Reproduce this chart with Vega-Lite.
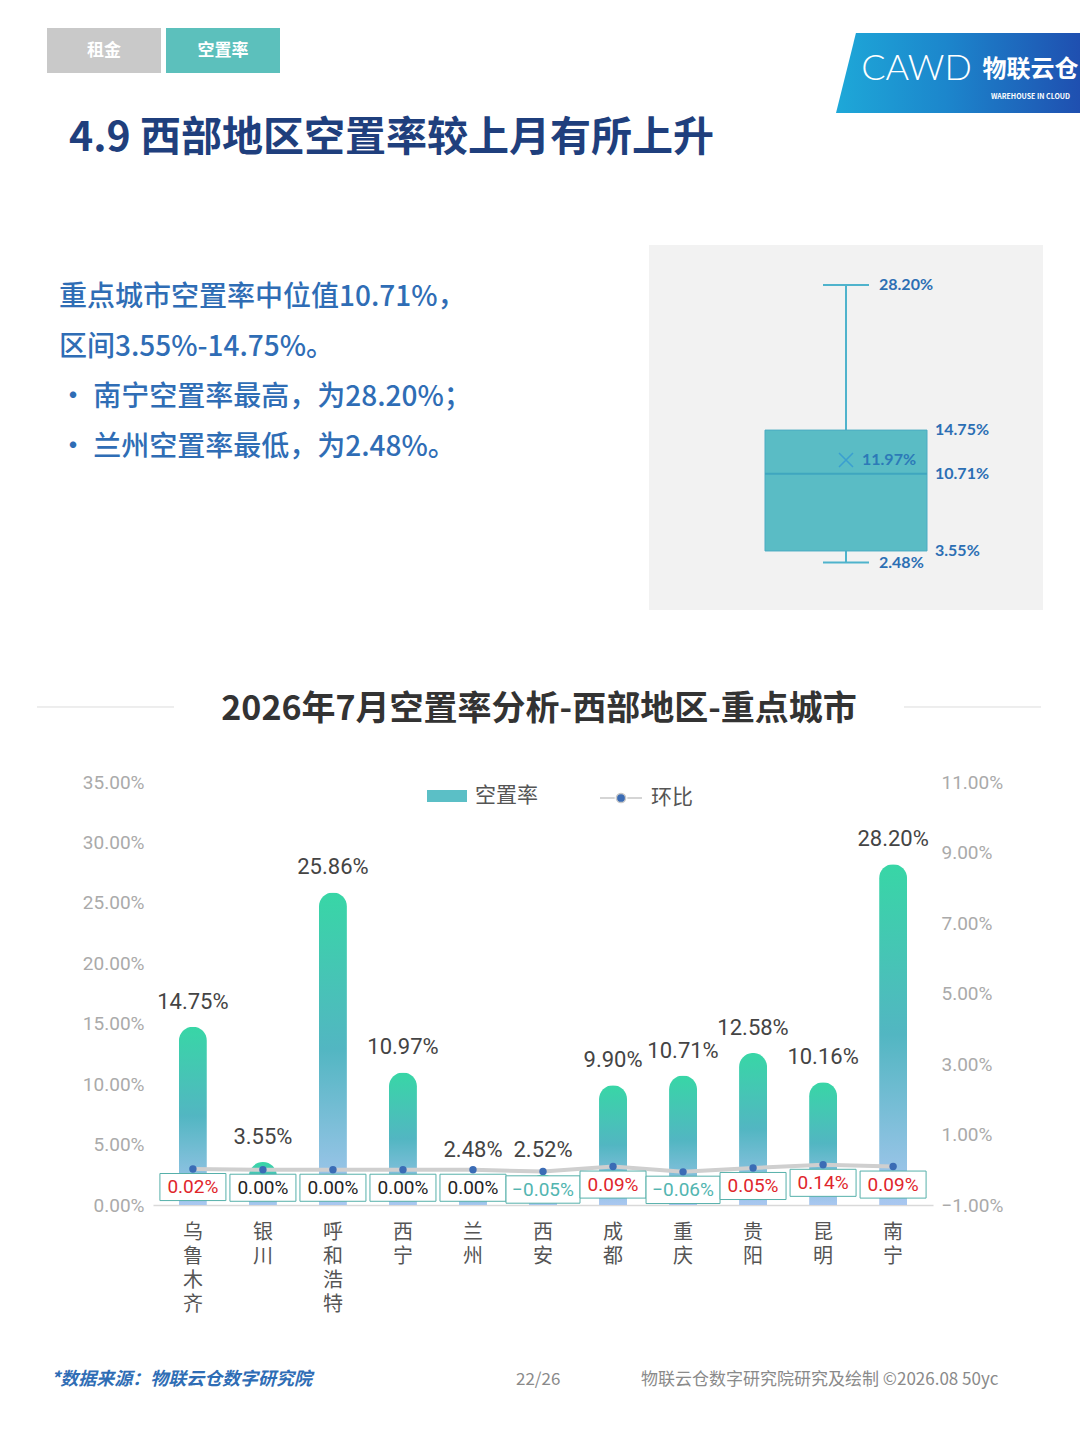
{
  "$schema": "https://vega.github.io/schema/vega-lite/v6.json",
  "background": "white",
  "padding": {"left": 36, "top": 28, "right": 0, "bottom": 0},
  "config": {"view": {"stroke": null}, "font": "Noto Sans CJK SC"},
  "columns": 1,
  "align": "none",
  "spacing": 0,
  "resolve": {"legend": {"fill": "independent", "shape": "independent"}},
  "datasets": {
    "cities": [
      {"city": "乌鲁木齐", "rate": 0.1475, "mom": 0.0002},
      {"city": "银川", "rate": 0.0355, "mom": 0.0},
      {"city": "呼和浩特", "rate": 0.2586, "mom": 0.0},
      {"city": "西宁", "rate": 0.1097, "mom": 0.0},
      {"city": "兰州", "rate": 0.0248, "mom": 0.0},
      {"city": "西安", "rate": 0.0252, "mom": -0.0005},
      {"city": "成都", "rate": 0.099, "mom": 0.0009},
      {"city": "重庆", "rate": 0.1071, "mom": -0.0006},
      {"city": "贵阳", "rate": 0.1258, "mom": 0.0005},
      {"city": "昆明", "rate": 0.1016, "mom": 0.0014},
      {"city": "南宁", "rate": 0.282, "mom": 0.0009}
    ],
    "bx": [{"min": 0.0248, "q1": 0.0355, "median": 0.1071, "q3": 0.1475, "max": 0.282, "mean": 0.1197}],
    "tabs": [{"tab": "租金", "active": false}, {"tab": "空置率", "active": true}],
    "summary": [
      {"i": 0, "line": "重点城市空置率中位值10.71%，"},
      {"i": 1, "line": "区间3.55%-14.75%。"},
      {"i": 2, "line": "•  南宁空置率最高，为28.20%；"},
      {"i": 3, "line": "•  兰州空置率最低，为2.48%。"}
    ]
  },
  "concat": [
    {
      "spacing": 546,
      "hconcat": [
        {
          "data": {"name": "tabs"},
          "width": 253,
          "height": 45,
          "encoding": {
            "x": {"field": "tab", "type": "nominal", "sort": null, "axis": null, "scale": {"paddingInner": 0.042, "paddingOuter": 0.084}}
          },
          "layer": [
            {"mark": {"type": "bar"}, "encoding": {"color": {"condition": {"test": "datum.active", "value": "#5cc0bc"}, "value": "#c9c9c9"}}},
            {"mark": {"type": "text", "fontSize": 17, "fontWeight": "bold", "color": "white", "baseline": "middle"}, "encoding": {"text": {"field": "tab"}}}
          ]
        },
        {
          "data": {"values": [{"t": "CAWD", "sub": "WAREHOUSE IN CLOUD", "cn": "物联云仓"}]},
          "width": 245,
          "height": 90,
          "layer": [
            {"mark": {"type": "point", "shape": "M-0.837,-0.327L1,-0.327L1,0.327L-1,0.327Z", "size": 60025, "filled": true, "opacity": 1, "strokeWidth": 0,
              "fill": {"gradient": "linear", "x1": 0, "y1": 0, "x2": 1, "y2": 0, "stops": [{"offset": 0, "color": "#1ea8d8"}, {"offset": 0.45, "color": "#1c86cc"}, {"offset": 1, "color": "#1f4fb0"}]}}, "encoding": {}},
            {"mark": {"type": "text", "fontSize": 36, "font": "Lato", "fontWeight": 300, "color": "white", "dx": -42, "dy": -4, "baseline": "middle"}, "encoding": {"text": {"field": "t"}}},
            {"mark": {"type": "text", "fontSize": 24, "fontWeight": "bold", "color": "white", "dx": 72, "dy": -3, "baseline": "middle"}, "encoding": {"text": {"field": "cn"}}},
            {"mark": {"type": "text", "fontSize": 7, "fontWeight": "bold", "color": "white", "dx": 72, "dy": 24, "baseline": "middle"}, "encoding": {"text": {"field": "sub"}}}
          ]
        }
      ]
    },
    {
      "title": {"text": "4.9 西部地区空置率较上月有所上升", "anchor": "start", "dx": 32, "fontSize": 41, "fontWeight": "bold", "color": "#1f3f7d", "font": "Noto Sans CJK SC", "offset": 85},
      "spacing": 20,
      "hconcat": [
        {
          "data": {"name": "summary"},
          "width": 592,
          "height": 365,
          "mark": {"type": "text", "align": "left", "baseline": "middle", "fontSize": 28, "fontWeight": 500, "color": "#2f6db5", "dx": 22},
          "encoding": {
            "x": {"datum": 0, "type": "quantitative", "scale": {"domain": [0, 1]}, "axis": null},
            "y": {"field": "i", "type": "ordinal", "axis": null, "scale": {"type": "point", "range": [53, 203], "padding": 0}},
            "text": {"field": "line"}
          }
        },
        {
          "data": {"name": "bx"},
          "width": 394,
          "height": 365,
          "view": {"fill": "#f2f2f2", "stroke": null},
          "encoding": {"x": {"datum": "box", "type": "nominal", "axis": null}},
          "layer": [
            {"mark": {"type": "rule", "color": "#4fb3cc", "strokeWidth": 2},
             "encoding": {"y": {"field": "q3", "type": "quantitative", "scale": {"domain": [-0.0192, 0.319], "nice": false, "zero": false}, "axis": null}, "y2": {"field": "max"}}},
            {"mark": {"type": "rule", "color": "#4fb3cc", "strokeWidth": 2},
             "encoding": {"y": {"field": "min", "type": "quantitative", "scale": {"domain": [-0.0192, 0.319], "nice": false, "zero": false}, "axis": null}, "y2": {"field": "q1"}}},
            {"mark": {"type": "bar", "size": 162, "fill": "#5abcc5", "stroke": "#4aabc2", "strokeWidth": 1},
             "encoding": {"y": {"field": "q1", "type": "quantitative", "scale": {"domain": [-0.0192, 0.319], "nice": false, "zero": false}, "axis": null}, "y2": {"field": "q3"}}},
            {"mark": {"type": "tick", "orient": "horizontal", "size": 162, "thickness": 2, "color": "#3fa6bf", "opacity": 1},
             "encoding": {"y": {"field": "median", "type": "quantitative", "scale": {"domain": [-0.0192, 0.319], "nice": false, "zero": false}, "axis": null}}},
            {"transform": [{"fold": ["max", "min"], "as": ["stat", "v"]}],
             "mark": {"type": "tick", "orient": "horizontal", "size": 46, "thickness": 2, "color": "#4fb3cc", "opacity": 1},
             "encoding": {"y": {"field": "v", "type": "quantitative", "scale": {"domain": [-0.0192, 0.319], "nice": false, "zero": false}, "axis": null}}},
            {"mark": {"type": "point", "shape": "M-1,-1L1,1M-1,1L1,-1", "size": 196, "filled": false, "stroke": "#3a9fd0", "strokeWidth": 1.5, "opacity": 1},
             "encoding": {"y": {"field": "mean", "type": "quantitative", "scale": {"domain": [-0.0192, 0.319], "nice": false, "zero": false}, "axis": null}}},
            {"transform": [{"fold": ["max", "min"], "as": ["stat", "v"]}],
             "mark": {"type": "text", "align": "left", "baseline": "middle", "dx": 33, "fontSize": 16, "fontWeight": "bold", "font": "Lato", "color": "#2c6fb4"},
             "encoding": {"y": {"field": "v", "type": "quantitative", "scale": {"domain": [-0.0192, 0.319], "nice": false, "zero": false}, "axis": null}, "text": {"field": "v", "type": "quantitative", "format": ".2%"}}},
            {"transform": [{"fold": ["q3", "median", "q1"], "as": ["stat", "v"]}],
             "mark": {"type": "text", "align": "left", "baseline": "middle", "dx": 89, "fontSize": 16, "fontWeight": "bold", "font": "Lato", "color": "#2c6fb4"},
             "encoding": {"y": {"field": "v", "type": "quantitative", "scale": {"domain": [-0.0192, 0.319], "nice": false, "zero": false}, "axis": null}, "text": {"field": "v", "type": "quantitative", "format": ".2%"}}},
            {"mark": {"type": "text", "align": "left", "baseline": "middle", "dx": 16, "fontSize": 16, "fontWeight": "bold", "font": "Lato", "color": "#2c7ab8"},
             "encoding": {"y": {"field": "mean", "type": "quantitative", "scale": {"domain": [-0.0192, 0.319], "nice": false, "zero": false}, "axis": null}, "text": {"field": "mean", "type": "quantitative", "format": ".2%"}}}
          ]
        }
      ]
    },
    {
      "data": {"values": [{"t": "2026年7月空置率分析-西部地区-重点城市"}]},
      "width": 1004,
      "height": 163,
      "encoding": {"y": {"datum": 0.405, "type": "quantitative", "scale": {"domain": [0, 1]}, "axis": null}},
      "layer": [
        {"mark": {"type": "rule", "color": "#dddddd", "strokeWidth": 1}, "encoding": {}},
        {"mark": {"type": "point", "shape": "M-1,-0.07H1V0.07H-1Z", "size": 532900, "filled": true, "fill": "white", "opacity": 1, "strokeWidth": 0}, "encoding": {}},
        {"mark": {"type": "text", "fontSize": 34, "fontWeight": "bold", "color": "#333333", "dy": 3, "baseline": "middle"}, "encoding": {"text": {"field": "t"}}}
      ]
    },
    {
      "spacing": 0,
      "resolve": {"legend": {"fill": "independent", "shape": "independent"}},
      "hconcat": [
        {"data": {"values": []}, "width": 1, "height": 1, "mark": "point"},
        {
          "data": {"name": "cities"},
          "width": 780,
          "height": 423,
          "encoding": {
            "x": {"field": "city", "type": "nominal", "sort": null,
              "scale": {"paddingInner": 0, "paddingOuter": 0.07},
              "axis": {"title": null, "labelExpr": "split(datum.label, '')", "labelAngle": 0, "labelFontSize": 20, "labelColor": "#555555", "labelLineHeight": 24, "labelPadding": 17, "ticks": false, "domainColor": "#d9d9d9", "domainWidth": 1.5, "labelFont": "Noto Sans CJK SC"}}
          },
          "layer": [
            {
              "encoding": {
                "y": {"field": "rate", "type": "quantitative", "scale": {"domain": [0, 0.35], "nice": false},
                  "axis": {"title": null, "values": [0, 0.05, 0.1, 0.15, 0.2, 0.25, 0.3, 0.35], "format": ".2%", "grid": false, "ticks": false, "domain": false, "labelColor": "#aaaaaa", "labelFontSize": 19, "labelPadding": 9, "minExtent": 115, "maxExtent": 115, "labelFont": "Liberation Sans Narrow, Roboto, sans-serif"}}
              },
              "layer": [
                {"mark": {"type": "bar", "size": 28, "cornerRadiusTopLeft": 14, "cornerRadiusTopRight": 14,
                  "fill": {"gradient": "linear", "x1": 0, "y1": 0, "x2": 0, "y2": 1, "stops": [{"offset": 0, "color": "#38d6a6"}, {"offset": 0.5, "color": "#52b6c2"}, {"offset": 1, "color": "#a9c7f0"}]}}},
                {"mark": {"type": "text", "dy": -25, "fontSize": 22, "color": "#444444", "baseline": "middle", "font": "Liberation Sans Narrow, Roboto, sans-serif"},
                 "encoding": {"text": {"field": "rate", "type": "quantitative", "format": ".2%"}}}
              ]
            },
            {
              "encoding": {
                "y": {"field": "mom", "type": "quantitative", "scale": {"domain": [-0.01, 0.11], "nice": false, "zero": false},
                  "axis": {"orient": "right", "title": null, "values": [-0.01, 0.01, 0.03, 0.05, 0.07, 0.09, 0.11], "format": ".2%", "grid": false, "ticks": false, "domain": false, "labelColor": "#aaaaaa", "labelFontSize": 19, "labelPadding": 8, "labelFont": "Liberation Sans Narrow, Roboto, sans-serif"}}
              },
              "layer": [
                {"mark": {"type": "line", "color": "#cfcfcf", "strokeWidth": 4}},
                {"mark": {"type": "point", "filled": true, "color": "#3b6cb5", "size": 55, "opacity": 1}},
                {"mark": {"type": "point", "filled": true, "fill": "white", "stroke": "#56b0aa", "strokeWidth": 1, "opacity": 1, "yOffset": 18},
                 "encoding": {
                   "shape": {"condition": {"test": "datum.mom < 0", "value": "M-1,-0.37H1V0.37H-1Z"}, "value": "M-1,-0.41H1V0.41H-1Z"},
                   "size": {"condition": {"test": "datum.mom < 0", "value": 5476}, "value": 4356}
                 }},
                {"mark": {"type": "text", "yOffset": 18, "fontSize": 19, "baseline": "middle", "font": "Liberation Sans Narrow, Roboto, sans-serif"},
                 "encoding": {
                   "text": {"field": "mom", "type": "quantitative", "format": ".2%"},
                   "color": {"condition": [{"test": "datum.mom > 0", "value": "#e0252b"}, {"test": "datum.mom < 0", "value": "#52b5b0"}], "value": "#222222"}
                 }}
              ]
            },
            {
              "transform": [{"filter": "false"}],
              "mark": {"type": "bar"},
              "encoding": {
                "fill": {"datum": "空置率", "type": "nominal", "scale": {"range": ["#5bbfc6"]},
                  "legend": {"orient": "none", "legendX": 274, "legendY": -6, "title": null, "symbolType": "M-1,-0.3H1V0.3H-1Z", "symbolSize": 1600, "labelFontSize": 21, "labelColor": "#555555", "labelFont": "Noto Sans CJK SC", "labelOffset": 8,
                    "encode": {"symbols": {"update": {"fill": {"value": {"gradient": "linear", "x1": 0, "y1": 0, "x2": 0, "y2": 1, "stops": [{"offset": 0, "color": "#4fc3c0"}, {"offset": 1, "color": "#a4c6ee"}]}}, "opacity": {"value": 1}, "strokeWidth": {"value": 0}}}}}}
              }
            },
            {
              "transform": [{"filter": "false"}],
              "mark": {"type": "point", "filled": true, "fill": "#3b6cb5", "stroke": "#c8c8c8", "strokeWidth": 3, "opacity": 1},
              "encoding": {
                "shape": {"datum": "环比", "type": "nominal", "scale": {"range": ["M-1,0H-0.3M0.3,0H1M0.22,0A0.22,0.22 0 1 1 -0.22,0A0.22,0.22 0 1 1 0.22,0"]},
                  "legend": {"orient": "none", "legendX": 446, "legendY": -6, "title": null, "symbolSize": 1764, "labelFontSize": 21, "labelColor": "#555555", "labelFont": "Noto Sans CJK SC", "labelOffset": 8,
                    "encode": {"symbols": {"update": {"fill": {"value": "#3b6cb5"}, "stroke": {"value": "#c8c8c8"}, "strokeWidth": {"value": 3}, "opacity": {"value": 1}}}}}}
              }
            }
          ],
          "resolve": {"scale": {"y": "independent"}}
        }
      ]
    },
    {
      "spacing": 0,
      "hconcat": [
        {
          "data": {"values": [{"t": "*数据来源：物联云仓数字研究院"}]},
          "width": 479, "height": 90,
          "mark": {"type": "text", "align": "left", "baseline": "middle", "dx": 14, "fontSize": 18, "fontStyle": "italic", "fontWeight": "bold", "color": "#2f6db5"},
          "encoding": {
            "x": {"datum": 0, "type": "quantitative", "scale": {"domain": [0, 1]}, "axis": null},
            "y": {"datum": 0.267, "type": "quantitative", "scale": {"domain": [0, 1]}, "axis": null},
            "text": {"field": "t"}
          }
        },
        {
          "data": {"values": [{"t": "22/26"}]},
          "width": 125, "height": 90,
          "mark": {"type": "text", "align": "left", "baseline": "middle", "fontSize": 17, "color": "#8a8a8a"},
          "encoding": {
            "x": {"datum": 0, "type": "quantitative", "scale": {"domain": [0, 1]}, "axis": null},
            "y": {"datum": 0.267, "type": "quantitative", "scale": {"domain": [0, 1]}, "axis": null},
            "text": {"field": "t"}
          }
        },
        {
          "data": {"values": [{"t": "物联云仓数字研究院研究及绘制   ©2026.08 50yc"}]},
          "width": 400, "height": 90,
          "mark": {"type": "text", "align": "left", "baseline": "middle", "fontSize": 17, "color": "#8a8a8a"},
          "encoding": {
            "x": {"datum": 0, "type": "quantitative", "scale": {"domain": [0, 1]}, "axis": null},
            "y": {"datum": 0.267, "type": "quantitative", "scale": {"domain": [0, 1]}, "axis": null},
            "text": {"field": "t"}
          }
        }
      ]
    }
  ]
}
